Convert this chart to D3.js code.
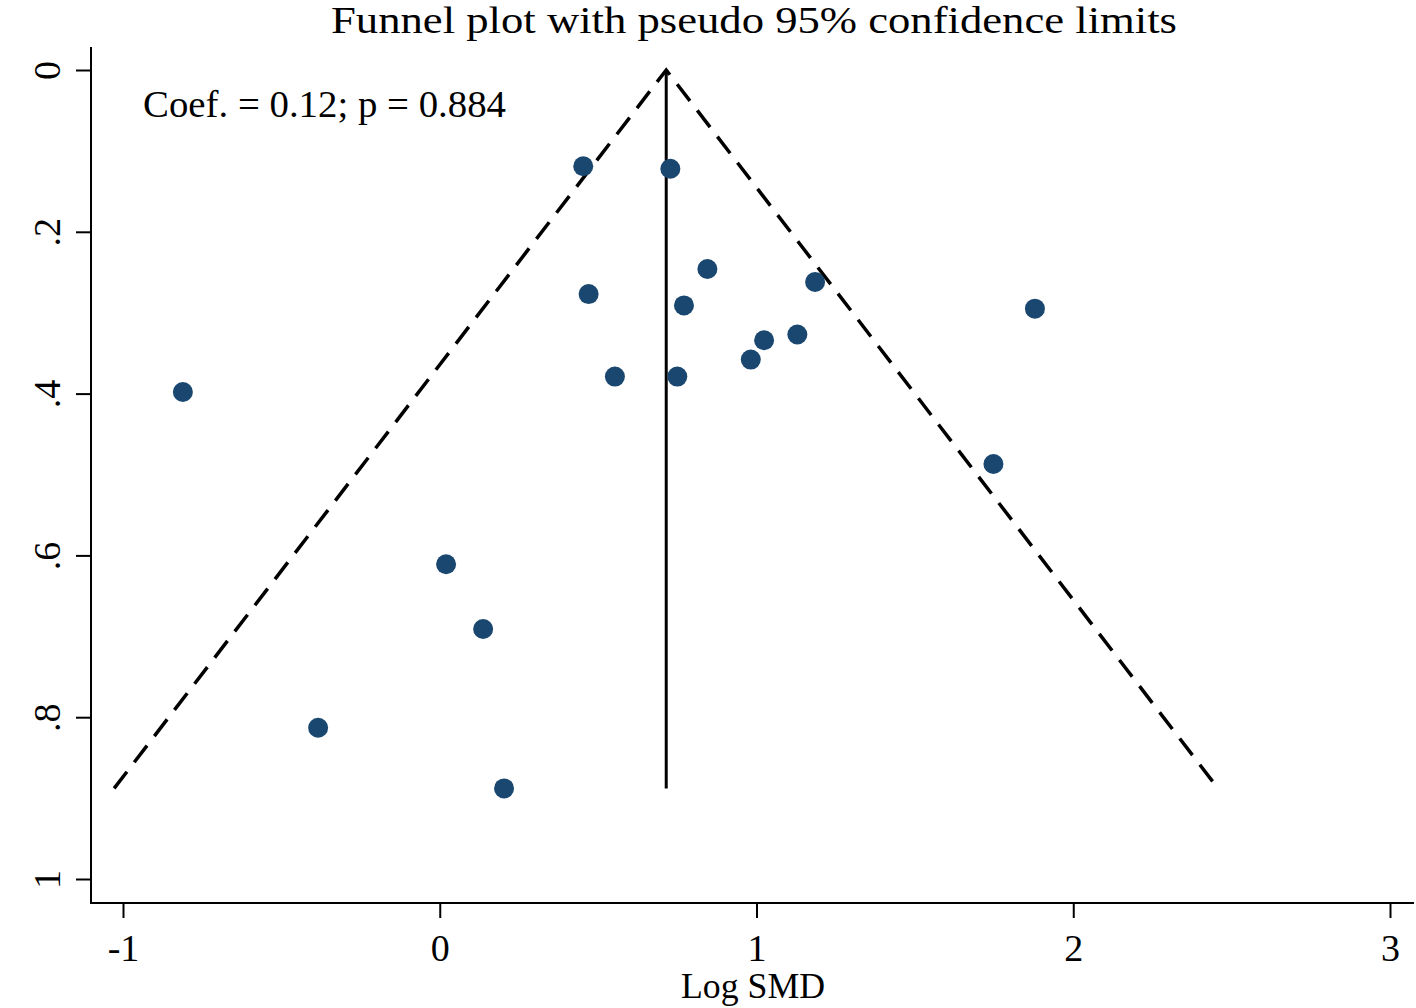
<!DOCTYPE html>
<html><head><meta charset="utf-8">
<script src="https://cdn.jsdelivr.net/npm/d3@7"></script>
<style>
html,body{margin:0;padding:0;background:#fff;}
text{font-family:"Liberation Serif","DejaVu Serif",serif;fill:#000;}
</style></head>
<body>
<svg id="chart" width="1416" height="1008"></svg>
<script>
// Data
const logSMD = [0.453,0.728,0.845,1.185,0.470,0.771,1.879,1.129,1.024,0.982,0.553,0.750,-0.811,1.748,0.020,0.137,-0.384,0.203];
const seSMD  = [0.119,0.122,0.246,0.262,0.277,0.291,0.295,0.327,0.334,0.358,0.379,0.379,0.398,0.487,0.611,0.691,0.813,0.888];
const pooledEstimate = 0.715;
const funnelLimitX = [-1.028, 0.715, 2.457];
const funnelLimitSE = [0.888, 0, 0.888];
const xTicks = [-1,0,1,2,3];
const yTicks = [0,0.2,0.4,0.6,0.8,1];
const yTickLabels = ["0",".2",".4",".6",".8","1"];
const titleText = "Funnel plot with pseudo 95% confidence limits";
const xTitle = "Log SMD";
const annotation = "Coef. = 0.12; p = 0.884";

const svg = d3.select("#chart");
const x = d3.scaleLinear().domain([-1,3]).range([123,1390]);
const y = d3.scaleLinear().domain([0,1]).range([70,879]);
const axisX0 = 91, axisY0 = 903;

// axes lines
svg.append("line").attr("x1",axisX0).attr("x2",axisX0).attr("y1",47).attr("y2",axisY0+1)
  .attr("stroke","#000").attr("stroke-width",2);
svg.append("line").attr("x1",axisX0).attr("x2",1414).attr("y1",axisY0).attr("y2",axisY0)
  .attr("stroke","#000").attr("stroke-width",2);

const gx = svg.append("g").attr("transform",`translate(0,${axisY0})`)
  .call(d3.axisBottom(x).tickValues(xTicks).tickSize(15).tickPadding(16).tickFormat(d=>String(d)));
gx.select(".domain").remove();
gx.selectAll(".tick line").attr("stroke","#000").attr("stroke-width",2);
gx.selectAll(".tick text").attr("font-size",38).attr("font-family","Liberation Serif").attr("fill","#000");

const gy = svg.append("g").attr("transform",`translate(${axisX0},0)`)
  .call(d3.axisLeft(y).tickValues(yTicks).tickSize(15).tickPadding(0).tickFormat((d,i)=>yTickLabels[i]));
gy.select(".domain").remove();
gy.selectAll(".tick line").attr("stroke","#000").attr("stroke-width",2);
gy.selectAll(".tick text").attr("font-size",38).attr("font-family","Liberation Serif").attr("fill","#000")
  .attr("x",0).attr("dy",0).attr("text-anchor","middle")
  .attr("transform","translate(-31,0) rotate(-90)");

// funnel limits
const line = d3.line().x((d,i)=>x(funnelLimitX[i])).y((d,i)=>y(funnelLimitSE[i]));
svg.append("path").datum(funnelLimitX).attr("d",line).attr("fill","none")
  .attr("stroke","#000").attr("stroke-width",3.5).attr("stroke-dasharray","21,12");

// pooled line
svg.append("line").attr("x1",x(pooledEstimate)).attr("x2",x(pooledEstimate))
  .attr("y1",y(0)).attr("y2",y(d3.max(funnelLimitSE))).attr("stroke","#000").attr("stroke-width",3);

// points
svg.append("g").selectAll("circle").data(logSMD).join("circle")
  .attr("cx",d=>x(d)).attr("cy",(d,i)=>y(seSMD[i])).attr("r",10)
  .attr("fill","#1a476f");

// texts
svg.append("text").attr("x",331).attr("y",33).attr("font-size",38)
  .attr("textLength",846).attr("lengthAdjust","spacingAndGlyphs").text(titleText);
svg.append("text").attr("x",681).attr("y",998).attr("font-size",36)
  .attr("textLength",144).attr("lengthAdjust","spacingAndGlyphs").text(xTitle);
svg.append("text").attr("x",143).attr("y",117).attr("font-size",38)
  .attr("textLength",363).attr("lengthAdjust","spacingAndGlyphs").text(annotation);
</script>
</body></html>
